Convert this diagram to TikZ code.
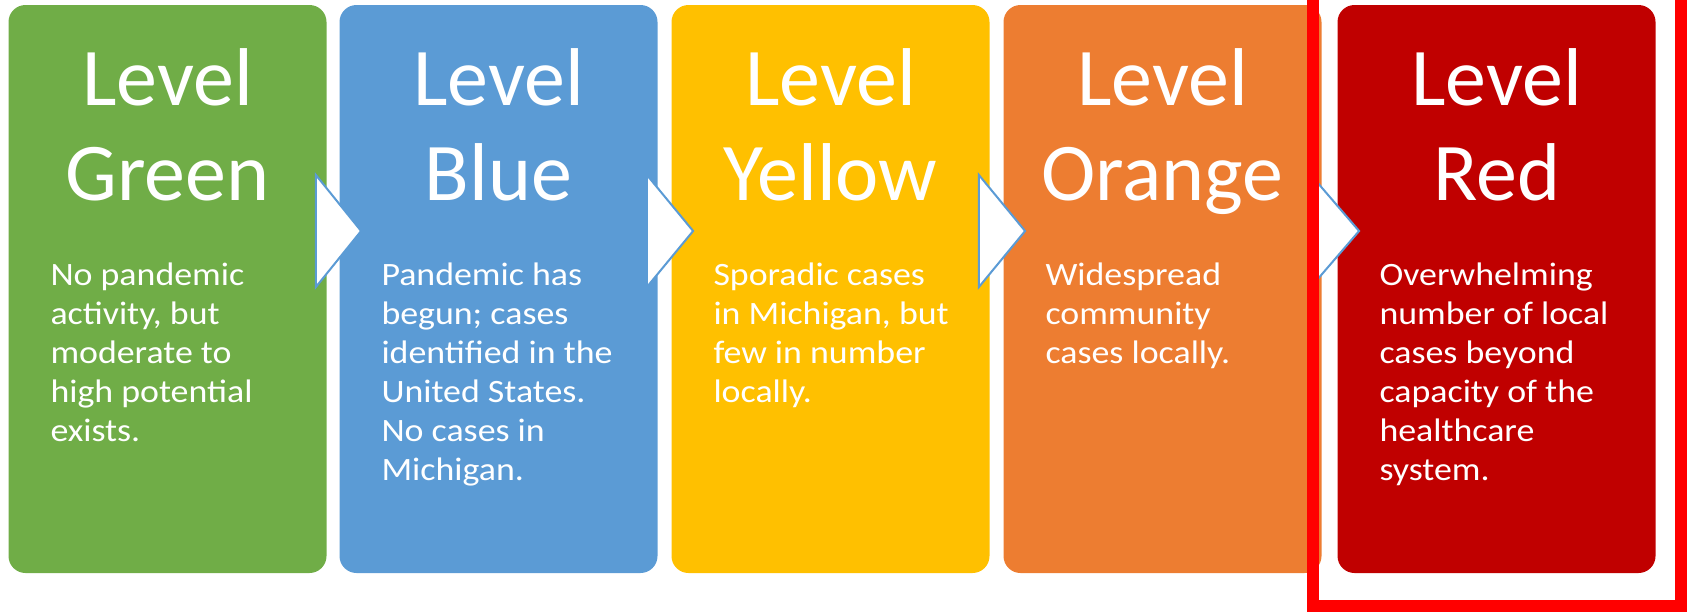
\documentclass[tikz,border=0pt]{standalone}
\usepackage{fontspec}
\setmainfont{Carlito}
\newfontfamily\bodyfont[FakeStretch=1.1]{Carlito}
\usepackage{xcolor}
\usetikzlibrary{positioning, calc}

\definecolor{lvgreen}{HTML}{70AD47}
\definecolor{lvblue}{HTML}{5B9BD5}
\definecolor{lvyellow}{HTML}{FFC000}
\definecolor{lvorange}{HTML}{ED7D31}
\definecolor{lvred}{HTML}{C00000}
\definecolor{framered}{HTML}{FF0000}

\tikzset{
  levelbox/.style={rounded corners=8.5pt, minimum width=159pt, minimum height=284pt, inner sep=0pt},
  leveltitle/.style={text=white, align=center, inner sep=0pt, font=\fontsize{41}{47.5}\selectfont},
  leveltext/.style={text=white, align=left, inner sep=0pt, font=\bodyfont\fontsize{16.3}{19.5}\selectfont},
  chevron/.style={fill=white, draw=lvblue, line width=1pt, line join=miter},
  highlight/.style={draw=framered, line width=6pt}
}

\begin{document}
\begin{tikzpicture}[x=0.5pt, y=-0.5pt]
  \useasboundingbox (0,0) rectangle (1689,611);
  \clip (0,0) rectangle (1689,611);
  % the five levels
  \node [levelbox, fill=lvgreen] at (167.5,289) (green) {};
  \node [levelbox, fill=lvblue] at (498.5,289) (blue) {};
  \node [levelbox, fill=lvyellow] at (830.5,289) (yellow) {};
  \node [levelbox, fill=lvorange] at (1162.5,289) (orange) {};
  \node [levelbox, fill=lvred] at (1496.5,289) (red) {};
  \node [leveltitle, below=21.8pt of green.north] {Level\\Green};
  \node [leveltitle, below=21.8pt of blue.north] {Level\\Blue};
  \node [leveltitle, below=21.8pt of yellow.north] {Level\\Yellow};
  \node [leveltitle, below=21.8pt of orange.north] {Level\\Orange};
  \node [leveltitle, below=21.8pt of red.north] {Level\\Red};
  \node [leveltext, below right=129pt and 21pt of green.north west] {No pandemic\\activity, but\\moderate to\\high potential\\exists.};
  \node [leveltext, below right=129pt and 21pt of blue.north west] {Pandemic has\\begun; cases\\identified in the\\United States.\\No cases in\\Michigan.};
  \node [leveltext, below right=129pt and 21pt of yellow.north west] {Sporadic cases\\in Michigan, but\\few in number\\locally.};
  \node [leveltext, below right=129pt and 21pt of orange.north west] {Widespread\\community\\cases locally.};
  \node [leveltext, below right=129pt and 21pt of red.north west] {Overwhelming\\number of local\\cases beyond\\capacity of the\\healthcare\\system.};
  % chevrons
  \draw [chevron] ($(green.east)+(-11,-114)$) -- ($(blue.west)+(22,-58)$) -- ($(green.east)+(-11,-2)$) -- cycle;
  \draw [chevron] ($(blue.east)+(-11,-114)$) -- ($(yellow.west)+(22,-58)$) -- ($(blue.east)+(-11,-2)$) -- cycle;
  \draw [chevron] ($(yellow.east)+(-11,-114)$) -- ($(orange.west)+(22,-58)$) -- ($(yellow.east)+(-11,-2)$) -- cycle;
  \draw [chevron] ($(orange.east)+(-11,-114)$) -- ($(red.west)+(22,-58)$) -- ($(orange.east)+(-11,-2)$) -- cycle;
  % frame round the last level
  \draw [highlight] (1313,-30) rectangle (1681,606);
\end{tikzpicture}
\end{document}
